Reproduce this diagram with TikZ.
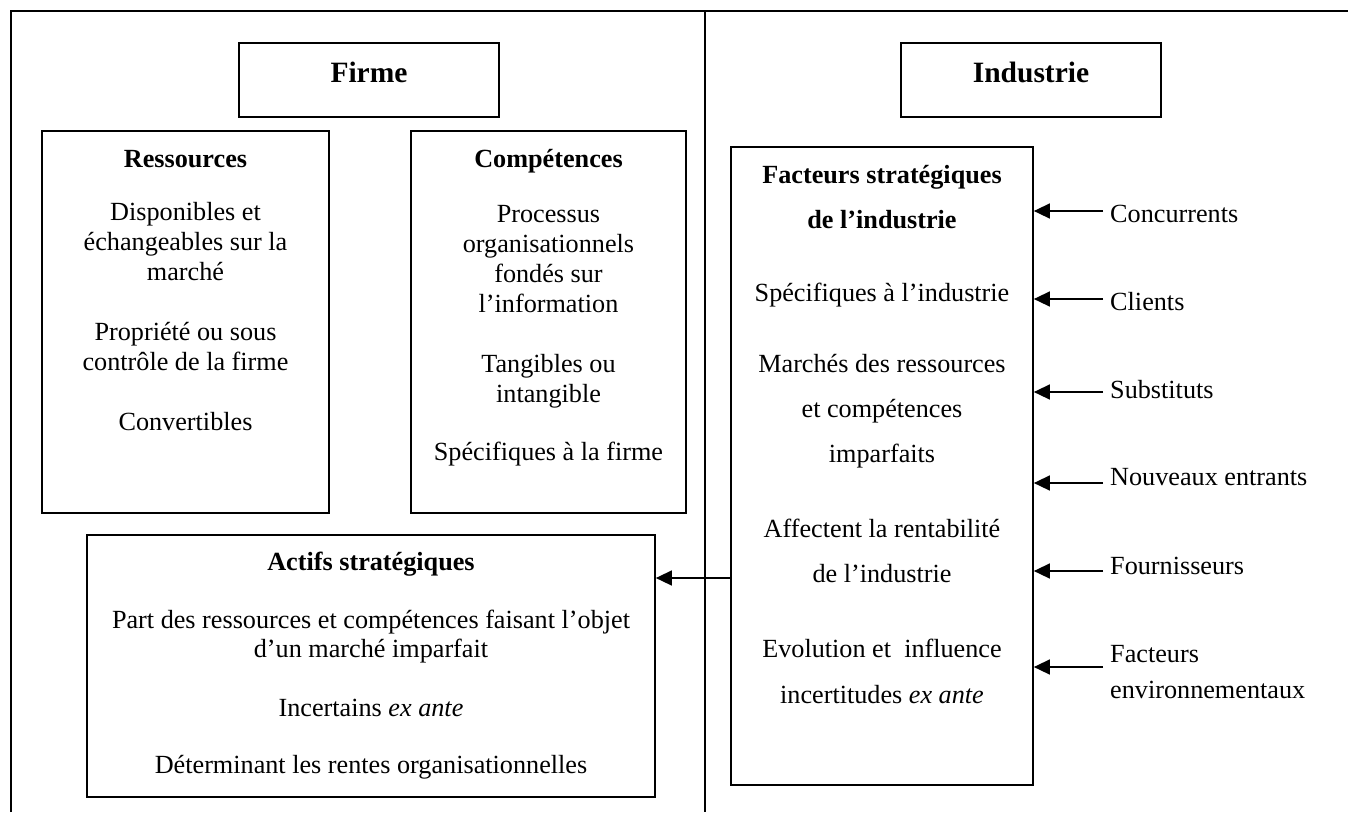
\documentclass[tikz,border=0pt]{standalone}
\usepackage{fontspec}
\setmainfont{Liberation Serif}
\usetikzlibrary{arrows.meta}
\begin{document}
\begin{tikzpicture}[x=1pt,y=-1pt,
  frame/.style={line width=1.6pt},
  box/.style={draw, line width=1.7pt, inner sep=0pt, rectangle},
  txt/.style={anchor=base, inner sep=0pt, font=\fontsize{26.2}{30}\selectfont},
  ttl/.style={anchor=base, inner sep=0pt, font=\fontsize{26.2}{30}\selectfont\bfseries},
  head/.style={anchor=base, inner sep=0pt, font=\fontsize{29.5}{34}\selectfont\bfseries},
  lbl/.style={anchor=base west, inner sep=0pt, font=\fontsize{26.2}{30}\selectfont},
  arr/.style={line width=1.5pt, -{Triangle[length=16pt,width=15pt]}}]
\fill[white] (0,0) rectangle (1348,812);
\useasboundingbox (0,0) rectangle (1348,812);

% outer frame and the divider between the two panels
\draw[frame] (11,812) -- (11,11) -- (1348,11);
\draw[frame] (705,11) -- (705,812);

% panel headers
\node[box, minimum width=260pt, minimum height=74pt] (firme) at (369,80) {};
\node[head] (firmeT) at (369,82) {Firme};
\node[box, minimum width=260pt, minimum height=74pt] (indus) at (1031,80) {};
\node[head] (indusT) at (1031,82) {Industrie};

% Ressources
\node[box, minimum width=287pt, minimum height=382pt] (res) at (185.5,322) {};
\node[ttl] (res0) at (185.5,167) {Ressources};
\node[txt] (res1) at (185.5,220) {Disponibles et};
\node[txt] (res2) at (185.5,250) {échangeables sur la};
\node[txt] (res3) at (185.5,280) {marché};
\node[txt] (res4) at (185.5,340) {Propriété ou sous};
\node[txt] (res5) at (185.5,370) {contrôle de la firme};
\node[txt] (res6) at (185.5,430) {Convertibles};

% Compétences
\node[box, minimum width=275pt, minimum height=382pt] (comp) at (548.5,322) {};
\node[ttl] (comp0) at (548.5,167) {Compétences};
\node[txt] (comp1) at (548.5,222) {Processus};
\node[txt] (comp2) at (548.5,252) {organisationnels};
\node[txt] (comp3) at (548.5,282) {fondés sur};
\node[txt] (comp4) at (548.5,312) {l’information};
\node[txt] (comp5) at (548.5,372) {Tangibles ou};
\node[txt] (comp6) at (548.5,402) {intangible};
\node[txt] (comp7) at (548.5,460) {Spécifiques à la firme};

% Actifs stratégiques
\node[box, minimum width=568pt, minimum height=262pt] (act) at (371,666) {};
\node[ttl] (act0) at (371,570) {Actifs stratégiques};
\node[txt] (act1) at (371,628) {Part des ressources et compétences faisant l’objet};
\node[txt] (act2) at (371,657) {d’un marché imparfait};
\node[txt] (act3) at (371,716) {Incertains \textit{ex ante}};
\node[txt] (act4) at (371,773) {Déterminant les rentes organisationnelles};

% Facteurs stratégiques de l'industrie
\node[box, minimum width=302pt, minimum height=638pt] (fac) at (882,466) {};
\node[ttl] (fac0) at (882,183) {Facteurs stratégiques};
\node[ttl] (fac1) at (882,228) {de l’industrie};
\node[txt] (fac2) at (882,301) {Spécifiques à l’industrie};
\node[txt] (fac3) at (882,372) {Marchés des ressources};
\node[txt] (fac4) at (882,417) {et compétences};
\node[txt] (fac5) at (882,462) {imparfaits};
\node[txt] (fac6) at (882,537) {Affectent la rentabilité};
\node[txt] (fac7) at (882,582) {de l’industrie};
\node[txt] (fac8) at (882,657) {Evolution et~ influence};
\node[txt] (fac9) at (882,703) {incertitudes \textit{ex ante}};

% external forces
\node[lbl] (f1) at (1110,222) {Concurrents};
\node[lbl] (f2) at (1110,310) {Clients};
\node[lbl] (f3) at (1110,398) {Substituts};
\node[lbl] (f4) at (1110,485) {Nouveaux entrants};
\node[lbl] (f5) at (1110,574) {Fournisseurs};
\node[lbl] (f6) at (1110,662) {Facteurs};
\node[lbl] (f7) at (1110,698) {environnementaux};

\coordinate (k1) at (1103,211);
\coordinate (k2) at (1103,299);
\coordinate (k3) at (1103,392);
\coordinate (k4) at (1103,483);
\coordinate (k5) at (1103,571);
\coordinate (k6) at (1103,667);
\foreach \k in {k1,k2,k3,k4,k5,k6}
  \draw[arr] (\k) -- (\k -| fac.east);

% industry factors feed the strategic assets
\coordinate (ka) at (0,578);
\draw[arr] (fac.west |- ka) -- (act.east |- ka);
\end{tikzpicture}
\end{document}
